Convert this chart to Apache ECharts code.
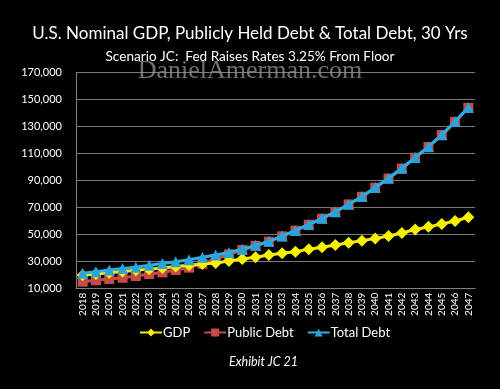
<!DOCTYPE html>
<html><head><meta charset="utf-8">
<script src="https://cdn.jsdelivr.net/npm/echarts@6/dist/echarts.min.js"></script>
<style>html,body{margin:0;padding:0;background:#000;}#c{width:500px;height:389px;}</style>
</head><body><div id="c"></div>
<script>
const years = ["2018","2019","2020","2021","2022","2023","2024","2025","2026","2027","2028","2029","2030","2031","2032","2033","2034","2035","2036","2037","2038","2039","2040","2041","2042","2043","2044","2045","2046","2047"];
const gdp = [20000,20900,21800,22700,23600,24500,25400,26400,27400,28300,29000,30500,32000,33300,35000,36200,37400,39300,40700,42400,44100,45600,47200,49100,51300,53800,55800,57900,60100,62900];
const publicDebt = [15200,16200,17200,18100,19400,20900,22100,23900,25600,28500,32000,35400,38700,41700,44800,48800,53000,57400,61900,66800,72400,78100,84800,91600,99000,107000,115000,123800,133600,144000];
const totalDebt = [21400,22600,23900,24900,25900,27300,28600,30000,31400,33300,35000,36800,39200,42100,45100,49000,53200,57600,62100,67000,72600,78300,85000,91800,99200,107200,115200,124000,133800,144200];
const yTicks = {min:10000, max:170000, interval:20000};

const chart = echarts.init(document.getElementById('c'), null, {renderer:'canvas'});
const font = 'Lato, "Open Sans", sans-serif';
chart.setOption({
  backgroundColor:'#000',
  animation:false,
  title:[
    {text:'U.S. Nominal GDP, Publicly Held Debt & Total Debt, 30 Yrs', left:'center', top:20,
     textStyle:{color:'#fff', fontSize:17, fontWeight:'normal', fontFamily:font}},
    {text:'Scenario JC:  Fed Raises Rates 3.25% From Floor', left:'center', top:45,
     textStyle:{color:'#fff', fontSize:13.6, fontWeight:'normal', fontFamily:font}},
    {text:'Exhibit JC 21', left:224, top:350,
     textStyle:{color:'#fff', fontSize:12.5, fontWeight:'normal', fontStyle:'italic', fontFamily:font}}
  ],
  graphic:[{type:'text', left:'center', top:58, z:100,
    style:{text:'DanielAmerman.com', fill:'rgba(150,150,150,0.75)', font:'26px "Liberation Serif", "DejaVu Serif", serif'}}],
  legend:{bottom:45, left:134, itemGap:13, itemWidth:22, itemHeight:10,
    textStyle:{color:'#fff', fontSize:13, fontFamily:font, padding:[0,0,0,-4]},
    data:['GDP','Public Debt','Total Debt']},
  grid:{left:76, right:25, top:72.7, bottom:100.3},
  xAxis:{type:'category', data:years, boundaryGap:true,
    axisLine:{show:true, lineStyle:{color:'#808080'}}, axisTick:{show:false},
    axisLabel:{rotate:90, color:'#fff', fontSize:10, fontFamily:font, interval:0, margin:4}},
  yAxis:{type:'value', min:yTicks.min, max:yTicks.max, interval:yTicks.interval,
    axisLine:{show:true, lineStyle:{color:'#808080'}},
    splitLine:{lineStyle:{color:'#7a7a7a', width:1}},
    axisLabel:{color:'#fff', fontSize:11, fontFamily:font, margin:14,
      formatter:v=>v.toLocaleString('en-US')}},
  series:[
    {name:'Public Debt', type:'line', data:publicDebt, symbol:'rect', symbolSize:10,
     lineStyle:{color:'#c0504d', width:3}, itemStyle:{color:'#c84a48'}, z:2},
    {name:'GDP', type:'line', data:gdp, symbol:'diamond', symbolSize:12,
     lineStyle:{color:'#f2ec00', width:3}, itemStyle:{color:'#f7f000'}, z:3},
    {name:'Total Debt', type:'line', data:totalDebt, symbol:'triangle', symbolSize:11,
     lineStyle:{color:'#25b2e8', width:3}, itemStyle:{color:'#2aa3d8'}, z:4}
  ]
});
</script></body></html>
